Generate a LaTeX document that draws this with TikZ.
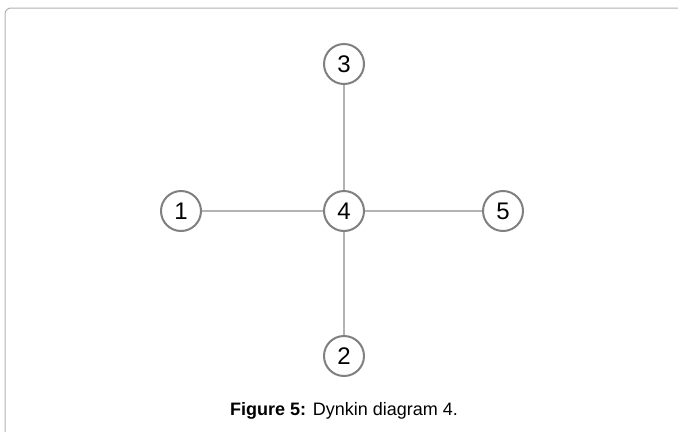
\documentclass[tikz,border=0pt]{standalone}
\usepackage{fontspec}
\setmainfont{Liberation Sans}
\begin{document}
\begin{tikzpicture}[x=1pt,y=-1pt,
  vtx/.style={circle,draw=black!50,line width=2pt,fill=white,minimum size=40pt,inner sep=0pt,font=\fontsize{24}{24}\selectfont},
  edge/.style={draw=black!30,line width=1.2pt}]
\useasboundingbox (0,0) rectangle (678,432);
\fill[white] (0,0) rectangle (678,432);
\draw[black!30,line width=1pt,rounded corners=6pt] (5,432) -- (5,8) -- (678,8);
\node[vtx] (n3) at (344,64) {3};
\node[vtx] (n4) at (344,211) {4};
\node[vtx] (n1) at (181,211) {1};
\node[vtx] (n5) at (503,211) {5};
\node[vtx] (n2) at (344,356) {2};
\draw[edge] (n3) -- (n4);
\draw[edge] (n1) -- (n4);
\draw[edge] (n4) -- (n5);
\draw[edge] (n4) -- (n2);
\node[font=\fontsize{18}{18}\selectfont] (cap) at (344,411) {\textbf{Figure 5:} Dynkin diagram 4.};
\end{tikzpicture}
\end{document}
